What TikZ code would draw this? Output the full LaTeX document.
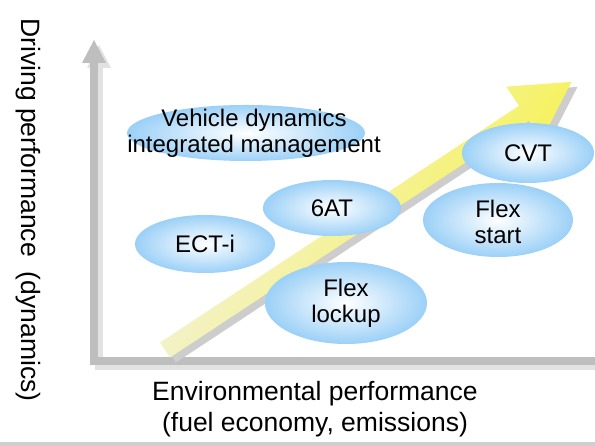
\documentclass[tikz,border=0pt]{standalone}
\usepackage{fontspec}
\setmainfont{Liberation Sans}
\usetikzlibrary{shapes.geometric}

\definecolor{axisgray}{HTML}{BEBEBE}
\definecolor{axisshade}{HTML}{E2E2E2}
\definecolor{framegray}{HTML}{CFCFCF}
\definecolor{arrowyellow}{HTML}{F7F23A}
\definecolor{arrowmid}{HTML}{F5F2B8}
\definecolor{arrowpale}{HTML}{F2F2EE}
\definecolor{arrowshade}{HTML}{CDCDCD}
\definecolor{blobblue}{HTML}{9BD0F7}

\tikzset{
  blob/.style={ellipse, inner sep=0pt, shading=radial,
    inner color=white, outer color=blobblue},
  blobtext/.style={align=center, inner sep=0pt,
    font=\fontsize{24}{26}\selectfont},
  axistext/.style={align=center, inner sep=0pt,
    font=\fontsize{26.5}{31}\selectfont},
}

% outline of the rising arrow
\newcommand{\trendarrow}{(169.95,88.49) -- (528.9,325.2) -- (541.6,306.0)
  -- (571.5,364.1) -- (506.3,359.4) -- (519.0,340.2) -- (160.05,103.51) -- cycle}

\begin{document}
\begin{tikzpicture}[x=1pt,y=1pt]
  \useasboundingbox (0,0) rectangle (595,446);
  \fill[framegray] (0,0) rectangle (595,4);

  % axes with their shadow
  \begin{scope}[shift={(5,-5)}]
    \draw[axisshade, line width=8pt] (600,85) -- (94,85) -- (94,384);
    \fill[axisshade] (94,406) -- (82,383) -- (106,383) -- cycle;
  \end{scope}
  \draw[axisgray, line width=8pt] (600,85) -- (94,85) -- (94,384);
  \fill[axisgray] (94,406) -- (82,383) -- (106,383) -- cycle;

  % rising arrow
  \begin{scope}[shift={(6,-5)}]
    \fill[arrowshade] \trendarrow;
  \end{scope}
  \shade[left color=arrowpale, middle color=arrowmid, right color=arrowyellow,
    shading angle=56.6] \trendarrow;

  % technologies
  \node[blob, minimum width=238pt, minimum height=56pt] (vdm) at (246,313) {};
  \node[blob, minimum width=138pt, minimum height=56pt] (sixat) at (332,238) {};
  \node[blob, minimum width=132pt, minimum height=60pt] (cvt) at (528,293) {};
  \node[blob, minimum width=150pt, minimum height=74pt] (flexstart) at (498,226) {};
  \node[blob, minimum width=140pt, minimum height=58pt] (ecti) at (205,202) {};
  \node[blob, minimum width=162pt, minimum height=82pt] (flexlockup) at (346,143) {};

  \node[blobtext] (vdmlabel) at (254,313) {Vehicle dynamics\\integrated management};
  \node[blobtext] (sixatlabel) at (sixat) {6AT};
  \node[blobtext] (cvtlabel) at (cvt) {CVT};
  \node[blobtext] (flexstartlabel) at (498,224) {Flex\\start};
  \node[blobtext] (ectilabel) at (ecti) {ECT-i};
  \node[blobtext] (flexlockuplabel) at (346,143) {Flex\\lockup};

  % axis titles
  \node[axistext] (xlabel) at (315,37) {Environmental performance\\(fuel economy, emissions)};
  \node[axistext, rotate=-90] (ylabel) at (28,236) {Driving performance\hspace{15pt}(dynamics)};
\end{tikzpicture}
\end{document}
